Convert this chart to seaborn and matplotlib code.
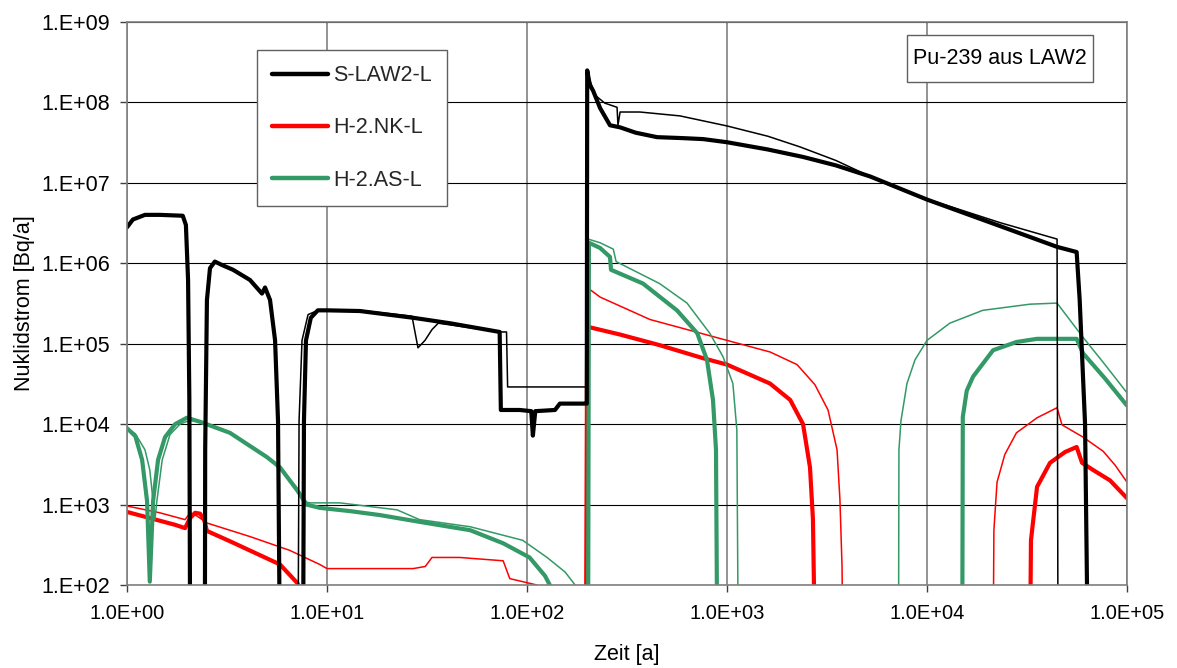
import matplotlib
matplotlib.use("Agg")
import matplotlib.pyplot as plt
from matplotlib.patches import Rectangle
from matplotlib.lines import Line2D
from matplotlib.ticker import FixedLocator, FixedFormatter, NullLocator
import seaborn as sns

# Zeit [a] and Nuklidstrom [Bq/a], values below 1e2 mean the curve leaves the plot

# S-LAW2-L, thick
slaw_thick_t = [1.0, 1.07, 1.23, 1.46, 1.9, 1.97, 2.02, 2.05, 2.07,
                2.45, 2.46, 2.51, 2.6, 2.75, 2.99, 3.39, 4.12, 4.73, 4.9, 5.19, 5.5, 5.69, 5.82,
                7.59, 7.67, 7.85, 8.3, 9.0, 10, 14.6, 27, 41, 73, 74, 92, 105, 107, 110, 138, 146,
                195, 199, 200, 206, 214, 232, 260, 292, 350, 447, 600, 760, 1000, 1600, 2400,
                3500, 5200, 1e4, 23200, 44700, 56000, 58000, 61700, 63800]
slaw_thick_v = [2.8e6, 3.5e6, 4.0e6, 4.0e6, 3.9e6, 3.0e6, 6.2e5, 2e4, 10,
                10, 4.8e3, 3.5e5, 8.7e5, 1.05e6, 9.5e5, 8.3e5, 6.2e5, 4.2e5, 5.0e5, 3.5e5, 1.1e5, 1.1e4, 10,
                10, 1.1e4, 1.1e5, 2.1e5, 2.6e5, 2.6e5, 2.55e5, 2.1e5, 1.8e5, 1.4e5, 1.5e4, 1.5e4, 1.45e4,
                7.2e3, 1.45e4, 1.5e4, 1.8e4,
                1.8e4, 1.8e4, 2.5e8, 1.66e8, 1.4e8, 8.5e7, 5.2e7, 4.9e7, 4.2e7, 3.7e7, 3.6e7, 3.5e7,
                3.2e7, 2.6e7, 2.1e7, 1.65e7, 1.2e7, 6.2e6, 2.9e6, 1.6e6, 1.38e6, 3.5e5, 1e4, 10]

# S-LAW2-L, thin
slaw_thin_t = [1.0, 1.07, 1.23, 1.46, 1.9, 1.97, 2.02, 2.05, 2.07,
               2.45, 2.46, 2.51, 2.6, 2.75, 2.99, 3.39, 4.12, 4.73, 4.9, 5.19, 5.5, 5.69, 5.82,
               7.16, 7.25, 7.5, 8.04, 9.0, 14.6, 26.6, 28.5, 30.9, 33.5, 36, 73, 79, 80, 103,
               195, 199, 200, 206, 219, 245, 282, 285, 292, 367, 582, 1000, 1600, 2317, 3500,
               5200, 1e4, 23200, 44700, 45200]
slaw_thin_v = [2.8e6, 3.5e6, 4.0e6, 4.0e6, 3.9e6, 3.0e6, 6.2e5, 2e4, 10,
               10, 4.8e3, 3.5e5, 8.7e5, 1.05e6, 9.5e5, 8.3e5, 6.2e5, 4.2e5, 5.0e5, 3.5e5, 1.1e5, 1.1e4, 10,
               10, 1.1e4, 1.1e5, 2.3e5, 2.6e5, 2.6e5, 2.2e5, 8.9e4, 1.1e5, 1.5e5, 1.8e5, 1.4e5, 1.4e5,
               2.9e4, 2.9e4,
               2.9e4, 2.9e4, 2.5e8, 1.9e8, 1.23e8, 9.8e7, 8.7e7, 5.2e7, 7.6e7, 7.6e7, 6.8e7, 5.1e7,
               3.8e7, 2.8e7, 1.9e7, 1.2e7, 6.3e6, 3.2e6, 2.0e6, 10]

# H-2.NK-L, thick
nk_thick_t = [1.0, 1.3, 1.74, 1.95, 2.07, 2.19, 2.32, 2.43, 2.51, 3.27, 4.62, 5.82, 7.1, 7.8,
              197, 200, 206, 292, 460, 760, 1000, 1640, 2070, 2400, 2600, 2690, 2760,
              32700, 33100, 35500, 41200, 49000, 56000, 59600, 69200, 82200, 1e5]
nk_thick_v = [8.1e2, 6.8e2, 5.6e2, 5.1e2, 6.8e2, 7.9e2, 7.7e2, 6.5e2, 4.7e2, 3.5e2, 2.35e2, 1.8e2, 1.06e2, 65,
              10, 1.7e5, 1.6e5, 1.3e5, 9.6e4, 6.6e4, 5.5e4, 3.2e4, 2e4, 1e4, 2.9e3, 6.5e2, 10,
              10, 3.6e2, 1.66e3, 3.3e3, 4.5e3, 5.2e3, 3.3e3, 2.6e3, 2.0e3, 1.2e3]

# H-2.NK-L, thin
nk_thin_t = [1.0, 1.46, 1.95, 2.07, 2.24, 2.51, 4.12, 6.5, 9.2, 10, 27, 31, 33.5, 46, 76, 82, 112, 123,
             197, 200, 232, 412, 1000, 1640, 2240, 2750, 3200, 3550, 3670, 3760, 3800,
             21400, 21600, 22400, 24500, 28000, 35500, 44700, 47300, 60300, 76000, 87100, 1e5]
nk_thin_v = [9.6e2, 7.9e2, 6.5e2, 7.9e2, 7.2e2, 5.9e2, 4e2, 2.7e2, 1.8e2, 1.6e2, 1.6e2, 1.7e2, 2.2e2,
             2.2e2, 2.0e2, 1.2e2, 1e2, 65,
             10, 5e5, 3.8e5, 2.0e5, 1.1e5, 7.9e4, 5.5e4, 3.1e4, 1.5e4, 4.8e3, 1.15e3, 1.7e2, 10,
             10, 4.8e2, 1.9e3, 4.2e3, 7.8e3, 1.2e4, 1.6e4, 9.8e3, 6.9e3, 4.6e3, 3.1e3, 1.9e3]

# H-2.AS-L, thick
as_thick_t = [1.0, 1.1, 1.19, 1.26, 1.3, 1.35, 1.43, 1.55, 1.74, 1.99, 2.32, 3.27, 5.0, 5.82, 7.1, 7.9,
              9.2, 13, 18.4, 29, 52, 76, 103, 123, 130, 138,
              202, 204, 232, 260, 263, 380, 562, 710, 794, 851, 881, 895,
              15000, 15100, 15800, 17000, 21400, 28000, 35500, 56000, 60300, 77600, 1e5]
as_thick_v = [8.9e3, 7.1e3, 3.6e3, 1.1e3, 1.1e2, 1.1e3, 3.6e3, 6.9e3, 1.0e4, 1.2e4, 1.07e4, 7.8e3, 3.9e3,
              2.9e3, 1.5e3, 1e3, 9.1e2, 8.3e2, 7.4e2, 6.1e2, 4.8e2, 3.3e2, 2.2e2, 1.3e2, 1e2, 10,
              10, 1.8e6, 1.55e6, 1.2e6, 8.3e5, 5.6e5, 2.6e5, 1.35e5, 6.3e4, 2e4, 4.8e3, 10,
              10, 1.23e4, 2.6e4, 3.9e4, 8.3e4, 1.05e5, 1.15e5, 1.15e5, 7.6e4, 3.7e4, 1.7e4]

# H-2.AS-L, thin
as_thin_t = [1.0, 1.1, 1.23, 1.3, 1.35, 1.38, 1.41, 1.5, 1.64, 1.84, 2.07, 2.32, 3.27, 5.0, 5.82, 7.1,
             7.9, 8.24, 11.6, 22.4, 29, 52, 95, 126, 155, 174, 184,
             200, 202, 232, 270, 279, 460, 631, 820, 955, 1070, 1120, 1140,
             7200, 7240, 7410, 7940, 8710, 1e4, 13000, 19000, 32700, 44700, 60300, 77600, 1e5]
as_thin_v = [8.9e3, 7.6e3, 4.8e3, 2.7e3, 1.1e3, 6.5e2, 1.1e3, 3.6e3, 7.4e3, 1.0e4, 1.12e4, 1.07e4, 7.8e3,
             3.9e3, 2.9e3, 1.6e3, 1.07e3, 1.05e3, 1.05e3, 8.6e2, 6.5e2, 5.3e2, 3.6e2, 2.2e2, 1.45e2, 1e2, 10,
             10, 2.0e6, 1.8e6, 1.5e6, 1.05e6, 5.6e5, 3.2e5, 1.35e5, 6.9e4, 3.2e4, 8.5e3, 10,
             10, 4.8e3, 1.1e4, 3.2e4, 6.3e4, 1.1e5, 1.8e5, 2.6e5, 3.1e5, 3.2e5, 1.2e5, 5.5e4, 2.45e4]

series_names = ["S-LAW2-L", "H-2.NK-L", "H-2.AS-L"]
series_colors = ["#000000", "#ff0000", "#339966"]

x_ticks = [1, 10, 100, 1e3, 1e4, 1e5]
x_tick_labels = ["1.0E+00", "1.0E+01", "1.0E+02", "1.0E+03", "1.0E+04", "1.0E+05"]
y_ticks = [1e2, 1e3, 1e4, 1e5, 1e6, 1e7, 1e8, 1e9]
y_tick_labels = ["1.E+02", "1.E+03", "1.E+04", "1.E+05", "1.E+06", "1.E+07", "1.E+08", "1.E+09"]

sns.set_theme(style="white")
plt.rcParams["font.family"] = ["Liberation Sans", "DejaVu Sans"]

fig = plt.figure(figsize=(11.77, 6.68), dpi=100)
ax = fig.add_axes([127 / 1177, 83 / 668, 1000 / 1177, 563 / 668])
ax.set_xscale("log")
ax.set_yscale("log")

thick, thin = 3.0, 1.1
curves = [
    (nk_thin_t, nk_thin_v, series_colors[1], thin),
    (nk_thick_t, nk_thick_v, series_colors[1], thick),
    (as_thin_t, as_thin_v, series_colors[2], thin),
    (as_thick_t, as_thick_v, series_colors[2], thick),
    (slaw_thin_t, slaw_thin_v, series_colors[0], thin),
    (slaw_thick_t, slaw_thick_v, series_colors[0], thick),
]
for t, v, c, lw in curves:
    sns.lineplot(x=t, y=v, ax=ax, color=c, linewidth=lw, sort=False,
                 estimator=None, legend=False)

ax.set_xlim(1, 1e5)
ax.set_ylim(1e2, 1e9)
ax.xaxis.set_major_locator(FixedLocator(x_ticks))
ax.xaxis.set_major_formatter(FixedFormatter(x_tick_labels))
ax.yaxis.set_major_locator(FixedLocator(y_ticks))
ax.yaxis.set_major_formatter(FixedFormatter(y_tick_labels))
ax.xaxis.set_minor_locator(NullLocator())
ax.yaxis.set_minor_locator(NullLocator())

ax.grid(False)
ax.yaxis.grid(True, color="black", linewidth=0.8)
ax.xaxis.grid(True, color="#808080", linewidth=1.2)
ax.set_axisbelow(True)
for s in ax.spines.values():
    s.set_color("#808080")
    s.set_linewidth(1.2)

ax.tick_params(axis="both", which="major", direction="out", length=5, width=1,
               color="#404040", left=True, bottom=True, labelcolor="black")
ax.tick_params(axis="x", labelsize=14.5, pad=8.5)
ax.tick_params(axis="y", labelsize=15.5, pad=7.5)

ax.set_xlabel("Zeit [a]", fontsize=15.5, color="black")
ax.set_ylabel("Nuklidstrom [Bq/a]", fontsize=15.5, color="black")
ax.xaxis.set_label_coords(0.5, -0.105)
ax.yaxis.set_label_coords(-0.092, 0.5)

handles = [Line2D([], [], color=c, linewidth=3.2) for c in series_colors]
leg = ax.legend(handles, series_names, loc="upper left", bbox_to_anchor=(0.13, 0.95),
                borderaxespad=0, frameon=True, fancybox=False, edgecolor="#606060",
                fontsize=15.5, borderpad=0.7, labelspacing=1.45, handlelength=2.6,
                handletextpad=0.25)
leg.get_frame().set_linewidth(1.0)
leg.get_frame().set_facecolor("white")
leg.get_frame().set_alpha(1)

ax.add_patch(Rectangle((0.78, 0.8934), 0.186, 0.0835, transform=ax.transAxes,
                       facecolor="white", edgecolor="#606060", linewidth=1.0, zorder=5))
ax.text(0.873, 0.935, "Pu-239 aus LAW2", transform=ax.transAxes, ha="center",
        va="center", fontsize=15.5, color="black", zorder=6)

fig.savefig("out.png", dpi=100)
